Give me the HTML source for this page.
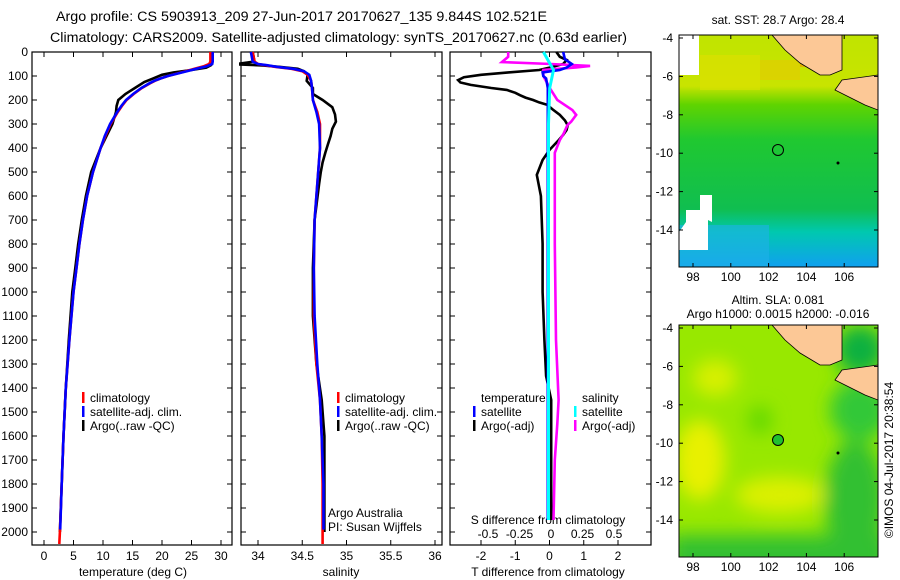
<!DOCTYPE html>
<html><head><meta charset="utf-8"><style>
html,body{margin:0;padding:0;background:#fff;}
svg{display:block;font-family:"Liberation Sans",sans-serif;}
text{fill:#000;}
</style></head><body>
<svg id="chart" width="900" height="580" viewBox="0 0 900 580" xmlns="http://www.w3.org/2000/svg">
<defs>
<linearGradient id="sstGrad" x1="0" y1="0" x2="0" y2="1">
<stop offset="0" stop-color="#c0e400"/><stop offset="0.22" stop-color="#c8e400"/>
<stop offset="0.3" stop-color="#60d400"/><stop offset="0.45" stop-color="#20c830"/>
<stop offset="0.75" stop-color="#10be50"/><stop offset="0.85" stop-color="#00c8b0"/>
<stop offset="1" stop-color="#10a0f0"/></linearGradient>
<filter id="blur" x="-50%" y="-50%" width="200%" height="200%"><feGaussianBlur stdDeviation="9"/></filter>
<clipPath id="clipTop"><rect x="679" y="35" width="199" height="232"/></clipPath>
<clipPath id="clipBot"><rect x="679" y="325" width="199" height="232"/></clipPath>
</defs>
<text x="56" y="21" font-size="13.5" textLength="491" lengthAdjust="spacingAndGlyphs">Argo profile: CS 5903913_209 27-Jun-2017 20170627_135 9.844S 102.521E</text>
<text x="50" y="42" font-size="13.5" textLength="577" lengthAdjust="spacingAndGlyphs">Climatology: CARS2009. Satellite-adjusted climatology: synTS_20170627.nc (0.63d earlier)</text>

<g id="maps">
<g clip-path="url(#clipTop)">
<rect x="679" y="35" width="199" height="232" fill="url(#sstGrad)"/>
<rect x="700" y="55" width="60" height="35" fill="#e0e000" opacity="0.6"/>
<rect x="800" y="55" width="25" height="12" fill="#f0a000" opacity="0.7"/>
<rect x="760" y="60" width="40" height="20" fill="#e8c800" opacity="0.6"/>
<rect x="679" y="35" width="20" height="40" fill="#fff"/>
<rect x="679" y="225" width="90" height="42" fill="#20b0e8" opacity="0.6"/>
<polygon points="679,232 679,250 708,250 708,220 712,222 712,195 700,195 700,210 686,210 686,222" fill="#fff"/>
<polygon points="772,35 842,35 842,70 830,75 820,75 800,63 785,50" fill="#fcc896" stroke="#000" stroke-width="0.8"/>
<polygon points="842,80 878,75 878,110 865,105 855,100 845,95 835,90" fill="#fcc896" stroke="#000" stroke-width="0.8"/>
<circle cx="778" cy="150" r="5.5" fill="none" stroke="#000" stroke-width="1"/>
<circle cx="838" cy="163" r="1.5" fill="#000"/>
</g>
<rect x="679" y="35" width="199" height="232" fill="none" stroke="#000" stroke-width="1"/>
<g clip-path="url(#clipBot)">
<rect x="679" y="325" width="199" height="232" fill="#98e800"/>
<g filter="url(#blur)">
<ellipse cx="715" cy="378" rx="22" ry="18" fill="#d8f000"/>
<ellipse cx="700" cy="460" rx="25" ry="40" fill="#e8f000"/>
<ellipse cx="780" cy="495" rx="45" ry="18" fill="#dcf000"/>
<ellipse cx="760" cy="420" rx="12" ry="14" fill="#60d800"/>
<rect x="670" y="535" width="220" height="40" fill="#30c030"/>
<ellipse cx="855" cy="500" rx="30" ry="60" fill="#30c030"/>
<ellipse cx="860" cy="410" rx="30" ry="30" fill="#30c838"/>
<ellipse cx="860" cy="350" rx="25" ry="25" fill="#10b040"/>
</g>
<polygon points="772,325 842,325 842,360 830,365 820,365 800,353 785,340" fill="#fcc896" stroke="#000" stroke-width="0.8"/>
<polygon points="842,370 878,365 878,400 865,395 855,390 845,385 835,380" fill="#fcc896" stroke="#000" stroke-width="0.8"/>
<circle cx="778" cy="440" r="5.5" fill="#20c030" stroke="#000" stroke-width="1"/>
<circle cx="838" cy="453" r="1.5" fill="#000"/>
</g>
<rect x="679" y="325" width="199" height="232" fill="none" stroke="#000" stroke-width="1"/>
<text x="778" y="24" font-size="12" text-anchor="middle">sat. SST: 28.7 Argo: 28.4</text>
<text x="778" y="304" font-size="12" text-anchor="middle">Altim. SLA: 0.081</text>
<text x="778" y="318" font-size="12" text-anchor="middle">Argo h1000: 0.0015 h2000: -0.016</text>
<text x="0" y="0" font-size="12" text-anchor="middle" transform="translate(893,460) rotate(-90)">©IMOS 04-Jul-2017 20:38:54</text>
</g>
<g id="dyn"></g>
</svg>
<script>
// ---- data ----
const depthTicks = [0,100,200,300,400,500,600,700,800,900,1000,1100,1200,1300,1400,1500,1600,1700,1800,1900,2000];
const tempTicks = [0,5,10,15,20,25,30];
const salTicks = [34,34.5,35,35.5,36];
const salTickLabels = ["34","34.5","35","35.5","36"];
const tdiffTicks = [-2,-1,0,1,2];
const sdiffTicks = [-0.5,-0.25,0,0.25,0.5];
const sdiffTickLabels = ["-0.5","-0.25","0","0.25","0.5"];
const latTicks = [-4,-6,-8,-10,-12,-14];
const lonTicks = [98,100,102,104,106];

const depthClimT = [0,40,50,60,70,80,90,100,110,120,130,150,175,200,225,250,300,350,400,500,600,700,800,900,1000,1200,1400,1600,1800,2000,2050];
const climT = [28.2,28.2,28.0,27.0,25.5,24,22.5,21,19.8,18.8,18,16.6,15.2,14,13.2,12.5,11.3,10.4,9.6,8.3,7.3,6.6,6.0,5.5,5.0,4.3,3.7,3.3,3.0,2.7,2.6];
const depthSatT = [0,40,50,60,70,80,90,100,110,120,130,150,175,200,225,250,300,350,400,500,600,700,800,900,1000,1200,1400,1600,1800,1990];
const satT = [28.6,28.6,28.5,27.5,25.8,24.2,22.6,21,19.8,18.7,17.9,16.5,15.1,13.9,13.1,12.4,11.2,10.3,9.6,8.3,7.3,6.6,6.0,5.5,5.0,4.3,3.7,3.3,3.0,2.75];
const depthArgoT = [0,40,55,65,75,85,95,110,125,150,175,200,225,250,300,350,400,500,600,700,800,900,1000,1200,1400,1600,1800,2000];
const argoT = [28.4,28.4,28.3,27.5,25,22,20,18.5,17,15.4,13.8,12.6,12.3,12.2,11.6,10.6,9.6,8.0,7.1,6.4,5.8,5.3,4.8,4.2,3.7,3.3,3.0,2.7];

const depthClimS = [0,40,50,55,62,70,80,95,120,150,200,250,300,400,500,700,900,1100,1300,1450,1600,1800,2000,2050];
const climS = [33.94,33.96,34.0,34.08,34.2,34.38,34.5,34.56,34.6,34.61,34.62,34.67,34.7,34.7,34.68,34.64,34.63,34.63,34.66,34.7,34.72,34.73,34.73,34.73];
const depthSatS = [0,40,50,55,62,70,80,95,120,150,200,250,300,400,500,700,900,1100,1300,1450,1600,1800,1990];
const satS = [33.92,33.94,34.0,34.1,34.22,34.4,34.52,34.58,34.6,34.61,34.62,34.66,34.69,34.7,34.68,34.64,34.63,34.64,34.67,34.7,34.72,34.74,34.74];
const depthArgoS = [0,40,48,52,56,62,70,80,95,120,150,175,200,230,260,290,320,350,385,420,460,500,550,700,900,1100,1300,1450,1600,1800,2000];
const argoS = [33.94,33.96,33.8,33.8,34.05,34.25,34.45,34.52,34.56,34.55,34.62,34.62,34.73,34.84,34.87,34.88,34.84,34.82,34.79,34.76,34.73,34.71,34.69,34.64,34.62,34.62,34.66,34.72,34.75,34.75,34.75];

const depthArgoTd = [0,20,33,50,65,75,85,95,105,117,127,137,150,158,170,180,190,200,210,220,240,262,285,305,325,345,370,408,450,512,600,800,1000,1200,1350,1450,1600,1800,1950];
const argoTd = [0.2,0.3,0.5,0.4,0.0,-0.3,-1.2,-2.0,-2.5,-2.67,-2.6,-2.3,-1.7,-1.25,-1.0,-0.86,-0.7,-0.48,-0.3,-0.07,0.1,0.3,0.45,0.53,0.5,0.4,0.25,0.0,-0.2,-0.37,-0.25,-0.2,-0.2,-0.15,-0.1,0.05,0.05,0.05,0.05];
const depthSatTd = [0,30,50,65,75,85,100,110,150,300,600,1000,1500,1950];
const satTd = [0.4,0.45,0.65,0.5,0.3,-0.2,-0.18,-0.1,-0.05,-0.05,-0.05,-0.05,-0.05,-0.05];
const depthArgoSd = [0,20,42,50,58,64,75,100,150,200,242,262,290,305,340,367,420,500,800,1200,1450,1550,1700,1950];
const argoSd = [-0.34,-0.34,-0.39,0.0,0.31,0.2,-0.06,-0.06,-0.01,0.05,0.17,0.2,0.16,0.13,0.1,0.07,0.03,0.03,0.03,0.04,0.06,0.05,0.03,0.02];
const depthSatSd = [0,75,150,300,600,1950];
const satSd = [-0.06,0.02,-0.01,-0.02,-0.02,-0.02];

// ---- axes ----
const NS = "http://www.w3.org/2000/svg";
const root = document.getElementById('dyn');
const Y0 = 52, Y1 = 545;
const yD = d => Y0 + d * 0.24;
const xT = v => 44 + v * 5.9;
const xS = v => 258 + (v - 34) * 88.5;
const xTd = v => 549.5 + v * 34.25;
const xSd = v => 551 + v * 126;
const lonX = v => 693 + (v - 98) * 18.9;
const latY = v => 38 + (-4 - v) * 19.2;

function mk(tag, attrs, parent) {
  const e = document.createElementNS(NS, tag);
  for (const k in attrs) e.setAttribute(k, attrs[k]);
  (parent || root).appendChild(e);
  return e;
}
function txt(s, x, y, anchor, size, name) {
  const t = mk('text', {x: x, y: y, 'text-anchor': anchor, 'font-size': size});
  t.textContent = s;
  
  
  return t;
}
function line(x1, y1, x2, y2, name) {
  const l = mk('line', {x1: x1, y1: y1, x2: x2, y2: y2, stroke: '#000', 'stroke-width': 1});
  
  
}
function frame(x0, x1, name) {
  const r = mk('rect', {x: x0, y: Y0, width: x1 - x0, height: Y1 - Y0, fill: 'none', stroke: '#000', 'stroke-width': 1.2});
  
  
  depthTicks.forEach(d => {
    line(x0, yD(d), x0 + 5, yD(d), 'y-tick');
    line(x1 - 5, yD(d), x1, yD(d), 'y-tick');
  });
}
function xticks(vals, fx, labels, name) {
  vals.forEach((v, i) => {
    const x = fx(v);
    line(x, Y1, x, Y1 - 5, 'x-tick');
    line(x, Y0, x, Y0 + 5, 'x-tick');
    if (labels) txt(labels[i], x, 560, 'middle', 12, name);
  });
}
function series(ds, vs, fx, color, name, w) {
  const pts = ds.map((d, i) => fx(vs[i]).toFixed(1) + ',' + yD(d).toFixed(1)).join(' ');
  const p = mk('polyline', {points: pts, fill: 'none', stroke: color, 'stroke-width': w || 2.6, 'stroke-linejoin': 'miter'});
  
  
}
function legendEntry(x, y, color, label) {
  const r = mk('rect', {x: x, y: y - 10, width: 2.5, height: 11, fill: color});
  
  
  txt(label, x + 8, y, 'start', 12, 'legend-entry');
}

// panel 1: temperature
frame(32, 232, 'temperature-panel-frame');
depthTicks.forEach(d => txt(String(d), 28, yD(d) + 4, 'end', 12, 'depth-tick-label'));
xticks(tempTicks, xT, tempTicks.map(String), 'temperature-tick-label');
series(depthArgoT, argoT, xT, '#000', 'argo-temperature-line');
series(depthClimT, climT, xT, '#f00', 'climatology-temperature-line');
series(depthSatT, satT, xT, '#00f', 'satellite-temperature-line');
txt('temperature (deg C)', 133, 576, 'middle', 12, 'temperature-axis-title');
legendEntry(82, 402, '#f00', 'climatology');
legendEntry(82, 416, '#00f', 'satellite-adj. clim.');
legendEntry(82, 430, '#000', 'Argo(..raw -QC)');

// panel 2: salinity
frame(241, 442, 'salinity-panel-frame');
xticks(salTicks, xS, salTickLabels, 'salinity-tick-label');
series(depthArgoS, argoS, xS, '#000', 'argo-salinity-line');
series(depthClimS, climS, xS, '#f00', 'climatology-salinity-line');
series(depthSatS, satS, xS, '#00f', 'satellite-salinity-line');
txt('salinity', 341, 576, 'middle', 12, 'salinity-axis-title');
legendEntry(337, 402, '#f00', 'climatology');
legendEntry(337, 416, '#00f', 'satellite-adj. clim.');
legendEntry(337, 430, '#000', 'Argo(..raw -QC)');
txt('Argo Australia', 328, 517, 'start', 12, 'credit-argo-australia');
txt('PI: Susan Wijffels', 328, 531, 'start', 12, 'credit-pi');

// panel 3: differences
frame(450, 651, 'difference-panel-frame');
xticks(tdiffTicks, xTd, tdiffTicks.map(String), 'tdiff-tick-label');
sdiffTicks.forEach((v, i) => txt(sdiffTickLabels[i], xSd(v), 538, 'middle', 12, 'sdiff-tick-label'));
txt('S difference from climatology', 548, 524, 'middle', 12, 'sdiff-axis-title');
txt('T difference from climatology', 548, 576, 'middle', 12, 'tdiff-axis-title');
series(depthArgoTd, argoTd, xTd, '#000', 'argo-tdiff-line');
series(depthArgoSd, argoSd, xSd, '#f0f', 'argo-sdiff-line');
series(depthSatTd, satTd, xTd, '#00f', 'satellite-tdiff-line');
series(depthSatSd, satSd, xSd, '#0ff', 'satellite-sdiff-line', 3);
txt('temperature', 481, 402, 'start', 12, 'legend-header-temperature');
txt('salinity', 582, 402, 'start', 12, 'legend-header-salinity');
legendEntry(473, 416, '#00f', 'satellite');
legendEntry(473, 430, '#000', 'Argo(-adj)');
legendEntry(574, 416, '#0ff', 'satellite');
legendEntry(574, 430, '#f0f', 'Argo(-adj)');

// map axes
[[0, 35, 267, 281], [290, 325, 557, 571]].forEach(m => {
  const off = m[0];
  latTicks.forEach(v => {
    const y = latY(v) + off;
    line(679, y, 683, y, 'lat-tick');
    line(874, y, 878, y, 'lat-tick');
    txt(String(v), 673, y + 4, 'end', 12, 'lat-tick-label');
  });
  lonTicks.forEach(v => {
    const x = lonX(v);
    line(x, m[1], x, m[1] + 4, 'lon-tick');
    line(x, m[2] - 4, x, m[2], 'lon-tick');
    txt(String(v), x, m[3], 'middle', 12, 'lon-tick-label');
  });
});
</script>
</body></html>
